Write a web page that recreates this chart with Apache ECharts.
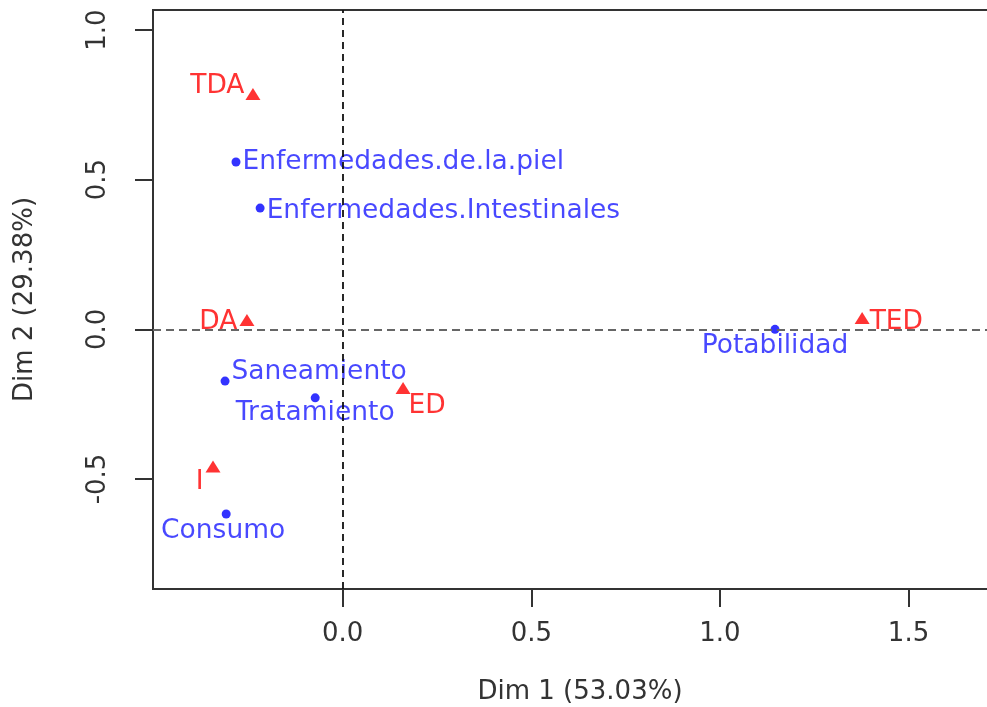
<!DOCTYPE html>
<html>
<head>
<meta charset="utf-8">
<script src="https://cdn.jsdelivr.net/npm/echarts@6/dist/echarts.min.js"></script>
<style>html,body{margin:0;padding:0;background:#fff;}#c{width:987px;height:707px;}</style>
</head>
<body>
<div id="c"></div>
<script>
// Column points (blue circles)
const colNames = ['Enfermedades.de.la.piel', 'Enfermedades.Intestinales', 'Potabilidad', 'Saneamiento', 'Tratamiento', 'Consumo'];
const colX = [-0.283, -0.219, 1.146, -0.312, -0.073, -0.309];
const colY = [0.559, 0.405, 0.000, -0.173, -0.229, -0.617];
// Row points (red triangles)
const rowNames = ['TDA', 'DA', 'ED', 'I', 'TED'];
const rowX = [-0.238, -0.254, 0.160, -0.344, 1.377];
const rowY = [0.786, 0.031, -0.196, -0.458, 0.038];
// Axis ticks
const xTicks = [0, 0.5, 1.0, 1.5];
const yTicks = [-0.5, 0, 0.5, 1.0];
const xTitle = 'Dim 1 (53.03%)';
const yTitle = 'Dim 2 (29.38%)';

const FONT = 'DejaVu Sans';
// label placement (layout only)
const labelLayout = {
  'TDA': {position: 'left', distance: 1, offset: [0, -8]},
  'DA': {position: 'left', distance: 2, offset: [0, 2]},
  'ED': {position: 'right', distance: -2, offset: [0, 18]},
  'I': {position: 'left', distance: 2, offset: [0, 16]},
  'TED': {position: 'right', distance: 0, offset: [0, 4]},
  'Enfermedades.de.la.piel': {position: 'right', distance: 2, offset: [0, 0]},
  'Enfermedades.Intestinales': {position: 'right', distance: 2, offset: [0, 3]},
  'Potabilidad': {position: 'bottom', distance: 0, offset: [0, -1]},
  'Saneamiento': {position: 'right', distance: 2, offset: [0, -9]},
  'Tratamiento': {position: 'bottom', distance: -3, offset: [0, 0]},
  'Consumo': {position: 'bottom', distance: -1, offset: [-3, 0]}
};

function buildData(names, xs, ys, color) {
  return names.map((n, i) => {
    const l = labelLayout[n];
    return {
      name: n,
      value: [xs[i], ys[i]],
      label: {
        show: true, formatter: n, position: l.position, distance: l.distance, offset: l.offset,
        color: color, fontFamily: FONT, fontSize: 26.5
      }
    };
  });
}

const fmt = v => (Math.round(v * 10) / 10).toFixed(1);

const chart = echarts.init(document.getElementById('c'), null, {renderer: 'canvas'});
chart.setOption({
  animation: false,
  backgroundColor: '#ffffff',
  grid: {left: 153, top: 10, width: 854, height: 579, outerBoundsMode: 'none', containLabel: false,
         show: true, borderColor: '#333', borderWidth: 2, backgroundColor: 'transparent'},
  xAxis: {
    type: 'value', min: -0.503, max: 1.761,
    axisLine: {show: false, onZero: false},
    splitLine: {show: false},
    axisTick: {show: true, length: 18, customValues: xTicks, lineStyle: {color: '#333', width: 2}},
    axisLabel: {customValues: xTicks, formatter: fmt, margin: 32, color: '#333', fontFamily: FONT, fontSize: 26},
    name: xTitle, nameLocation: 'middle', nameGap: 90,
    nameTextStyle: {color: '#333', fontFamily: FONT, fontSize: 26}
  },
  yAxis: {
    type: 'value', min: -0.8677, max: 1.067,
    axisLine: {show: false, onZero: false},
    splitLine: {show: false},
    axisTick: {show: true, length: 18, customValues: yTicks, lineStyle: {color: '#333', width: 2}},
    axisLabel: {customValues: yTicks, formatter: fmt, rotate: 90, margin: 42, color: '#333', fontFamily: FONT, fontSize: 26},
    name: yTitle, nameLocation: 'middle', nameGap: 115,
    nameTextStyle: {color: '#333', fontFamily: FONT, fontSize: 26}
  },
  series: [
    {
      type: 'scatter', data: [], z: 1, silent: true,
      markLine: {
        silent: true, symbol: ['none', 'none'], label: {show: false}, animation: false,
        data: [
          {xAxis: 0, lineStyle: {color: '#111', type: [7, 5], width: 1.8}},
          {yAxis: 0, lineStyle: {color: '#666', type: [8, 5], width: 2}}
        ]
      }
    },
    {
      type: 'scatter', name: 'cols', z: 3, symbol: 'circle', symbolSize: 9,
      itemStyle: {color: '#0000ff'},
      data: buildData(colNames, colX, colY, '#1a1aff')
    },
    {
      type: 'scatter', name: 'rows', z: 3, symbol: 'triangle', symbolSize: [15, 12],
      itemStyle: {color: '#ff0000'},
      data: buildData(rowNames, rowX, rowY, '#ff0000')
    }
  ]
});
</script>
</body>
</html>
